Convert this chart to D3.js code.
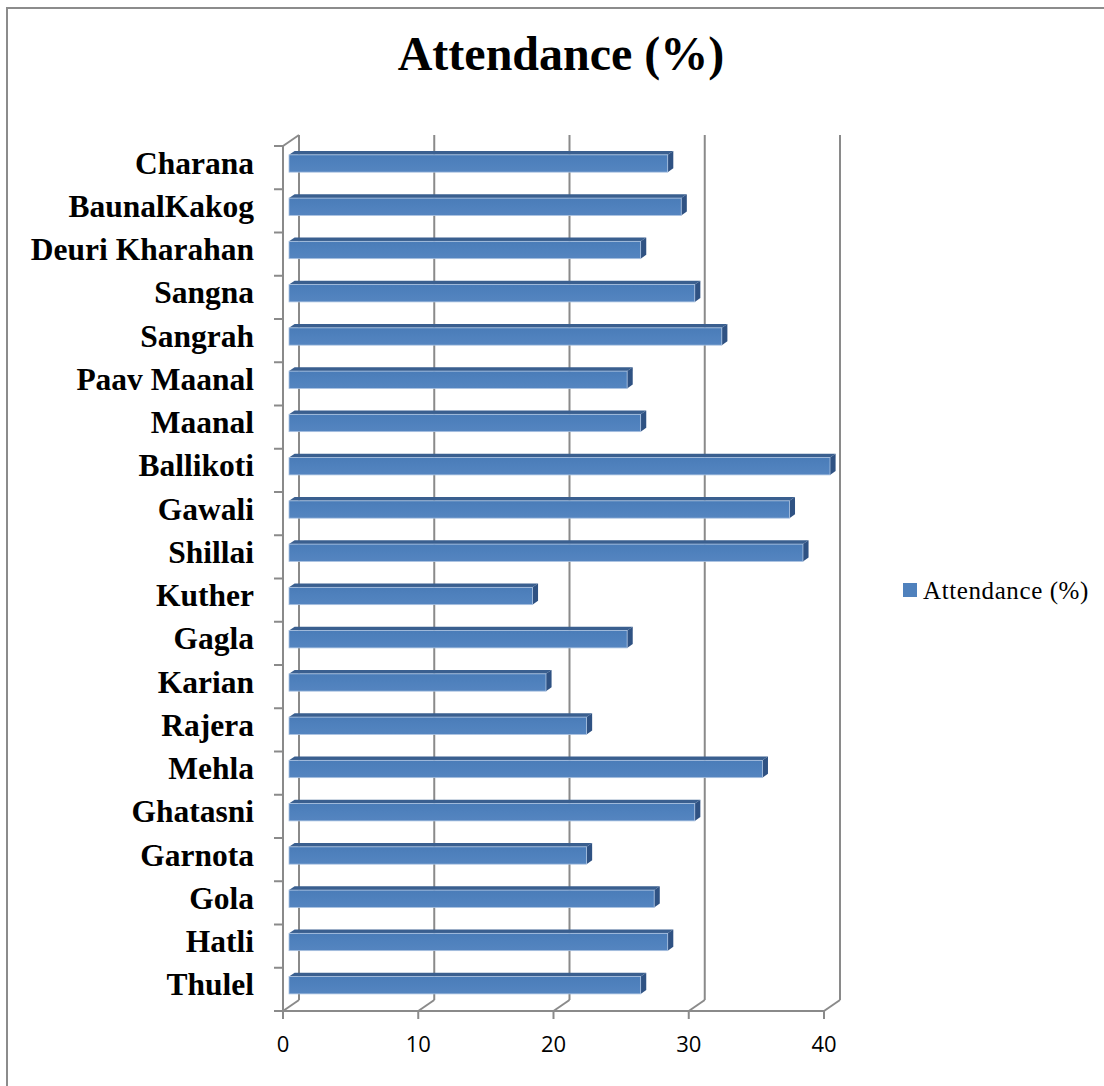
<!DOCTYPE html>
<html>
<head>
<meta charset="utf-8">
<script src="https://cdn.jsdelivr.net/npm/d3@7"></script>
<style>
  body { margin: 0; background: #fff; }
  svg { display: block; }
</style>
</head>
<body>
<script>
const width = 1104;
const height = 1086;

// data, top to bottom
const categories = [
  "Charana", "BaunalKakog", "Deuri Kharahan", "Sangna", "Sangrah",
  "Paav Maanal", "Maanal", "Ballikoti", "Gawali", "Shillai",
  "Kuther", "Gagla", "Karian", "Rajera", "Mehla",
  "Ghatasni", "Garnota", "Gola", "Hatli", "Thulel"
];
const attendance = [28, 29, 26, 30, 32, 25, 26, 40, 37, 38, 18, 25, 19, 22, 35, 30, 22, 27, 28, 26];
const xTicks = [0, 10, 20, 30, 40];
const seriesName = "Attendance (%)";

const rows = categories.map((c, i) => ({ name: c, value: attendance[i] }));

// 3d depth of the plot box
const depthX = 16;
const depthY = -11;
const barFront = 0.375;
const barBack = 0.725;
const gridColor = "#8a8a8a";

const svg = d3.select("body")
  .append("svg")
  .attr("width", width)
  .attr("height", height);

// chart frame
svg.append("rect")
  .attr("x", 7)
  .attr("y", 8)
  .attr("width", 1200)
  .attr("height", 1200)
  .attr("fill", "#fff")
  .attr("stroke", "#8c8c8c")
  .attr("stroke-width", 2);

svg.append("text")
  .attr("x", 561)
  .attr("y", 70)
  .attr("text-anchor", "middle")
  .style("font-family", "'Liberation Serif', 'Times New Roman', serif")
  .style("font-weight", "bold")
  .style("font-size", "48px")
  .text(seriesName);

const x = d3.scaleLinear().domain([0, 40]).range([283, 824]);
const y = d3.scaleBand()
  .domain(categories)
  .range([146, 1011])
  .paddingInner(0.6)
  .paddingOuter(0.3);

const floorY = y.range()[1];
const topY = y.range()[0];

const grid = svg.append("g").attr("class", "grid")
  .attr("stroke", gridColor)
  .attr("stroke-width", 2)
  .attr("fill", "none");

// back wall gridlines
grid.selectAll(".back")
  .data(xTicks)
  .join("line")
  .attr("x1", d => x(d) + depthX)
  .attr("x2", d => x(d) + depthX)
  .attr("y1", topY + depthY)
  .attr("y2", floorY + depthY);

// floor diagonals
grid.selectAll(".diag")
  .data(xTicks)
  .join("line")
  .attr("x1", d => x(d))
  .attr("x2", d => x(d) + depthX)
  .attr("y1", floorY)
  .attr("y2", floorY + depthY);

// floor front edge
grid.append("line")
  .attr("x1", x(0)).attr("x2", x(40))
  .attr("y1", floorY).attr("y2", floorY);

// category axis front edge + top corner
grid.append("line")
  .attr("x1", x(0)).attr("x2", x(0))
  .attr("y1", topY).attr("y2", floorY);
grid.append("line")
  .attr("x1", x(0)).attr("x2", x(0) + depthX)
  .attr("y1", topY).attr("y2", topY + depthY);

// value ticks
grid.selectAll(".xtick")
  .data(xTicks)
  .join("line")
  .attr("x1", d => x(d)).attr("x2", d => x(d))
  .attr("y1", floorY).attr("y2", floorY + 8);

// category ticks between bands
const bounds = categories.map(c => y(c) - y.step() * y.paddingOuter());
bounds.push(floorY);
grid.selectAll(".ytick")
  .data(bounds)
  .join("line")
  .attr("x1", x(0) - 9).attr("x2", x(0))
  .attr("y1", d => d).attr("y2", d => d);

// bars
const fx = barFront * depthX;
const fy = barFront * depthY;
const dbx = (barBack - barFront) * depthX;
const dby = (barBack - barFront) * depthY;

const defs = svg.append("defs");
const grad = defs.append("linearGradient")
  .attr("id", "barGrad")
  .attr("x1", 0).attr("y1", 0).attr("x2", 0).attr("y2", 1);
grad.append("stop").attr("offset", "0%").attr("stop-color", "#4a7cb8");
grad.append("stop").attr("offset", "50%").attr("stop-color", "#4f81bd");
grad.append("stop").attr("offset", "100%").attr("stop-color", "#5585c0");

const bar = svg.append("g").attr("class", "bars")
  .selectAll("g")
  .data(rows)
  .join("g");

// top face
bar.append("path")
  .attr("fill", "#3a5f8f")
  .attr("d", d => {
    const x0 = x(0) + fx, x1 = x(d.value) + fx, y0 = y(d.name) + fy;
    return `M${x0},${y0}L${x0 + dbx},${y0 + dby}L${x1 + dbx},${y0 + dby}L${x1},${y0}Z`;
  });

// side face
bar.append("path")
  .attr("fill", "#2f5283")
  .attr("d", d => {
    const x1 = x(d.value) + fx, y0 = y(d.name) + fy, y1 = y0 + y.bandwidth();
    return `M${x1},${y0}L${x1 + dbx},${y0 + dby}L${x1 + dbx},${y1 + dby}L${x1},${y1}Z`;
  });

// front face
bar.append("rect")
  .attr("x", x(0) + fx)
  .attr("y", d => y(d.name) + fy)
  .attr("width", d => x(d.value) - x(0))
  .attr("height", y.bandwidth())
  .attr("fill", "url(#barGrad)")
  .attr("stroke", "#a9c1e0")
  .attr("stroke-width", 0.8);

// category labels
svg.append("g")
  .selectAll("text")
  .data(categories)
  .join("text")
  .attr("x", 254)
  .attr("y", d => y(d) + y.bandwidth() / 2 + 6)
  .attr("text-anchor", "end")
  .style("font-family", "'Liberation Serif', 'Times New Roman', serif")
  .style("font-weight", "bold")
  .style("font-size", "31.5px")
  .text(d => d);

// value tick labels
svg.append("g")
  .selectAll("text")
  .data(xTicks)
  .join("text")
  .attr("x", d => x(d))
  .attr("y", 1052)
  .attr("text-anchor", "middle")
  .style("font-family", "'Open Sans', sans-serif")
  .style("font-size", "22px")
  .text(d => d);

// legend
const legend = svg.append("g").attr("transform", "translate(903, 583)");
legend.append("rect")
  .attr("width", 14)
  .attr("height", 14)
  .attr("fill", "#4f81bd");
legend.append("text")
  .attr("x", 20)
  .attr("y", 16)
  .style("font-family", "'Liberation Serif', 'Times New Roman', serif")
  .style("font-size", "25px")
  .style("letter-spacing", "0.6px")
  .text(seriesName);
</script>
</body>
</html>
